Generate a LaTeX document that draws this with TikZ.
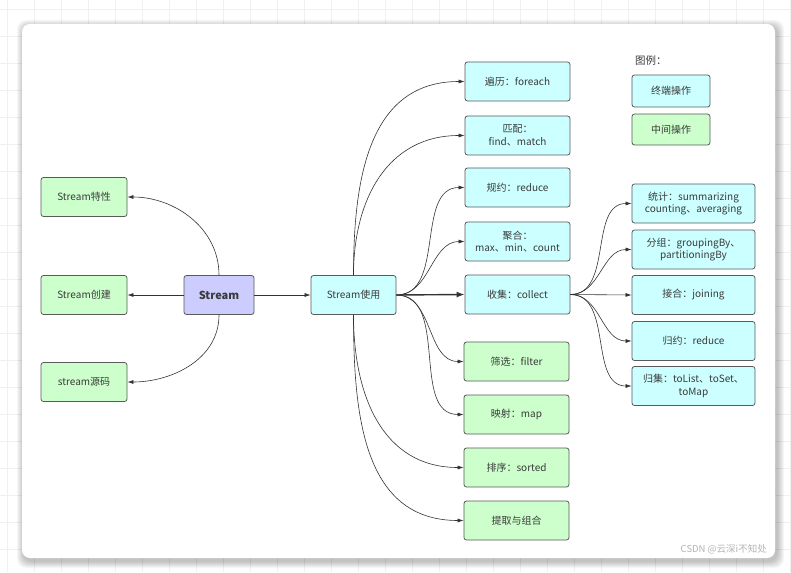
\documentclass[tikz,border=0pt]{standalone}
\usepackage{fontspec}
\setmainfont{Noto Sans CJK SC}
\usetikzlibrary{arrows.meta}
\definecolor{gfill}{HTML}{CCFFCC}
\definecolor{cfill}{HTML}{CCFFFF}
\definecolor{pfill}{HTML}{CCCCFF}
\definecolor{bordc}{HTML}{5A5A5A}
\definecolor{txtc}{HTML}{3A3A3A}
\definecolor{linec}{HTML}{333333}
\definecolor{gridc}{HTML}{F0F0F0}
\definecolor{wmc}{HTML}{B4B4B4}
\begin{document}
\begin{tikzpicture}[x=1pt,y=1pt,
 box/.style={draw=bordc, line width=0.8pt, rounded corners=2.5pt, text=txtc, font=\fontsize{10}{12.5}\selectfont, align=center, inner sep=0pt},
 gbox/.style={box, fill=gfill},
 cbox/.style={box, fill=cfill},
 leftbox/.style={gbox, minimum width=86pt, minimum height=39pt},
 midc/.style={cbox, minimum width=105pt, minimum height=39pt},
 midg/.style={gbox, minimum width=105pt, minimum height=39pt},
 rightc/.style={cbox, minimum width=123pt, minimum height=39pt},
 legc/.style={box, minimum width=78pt, minimum height=32pt},
 conn/.style={draw=linec, line width=0.6pt, -{Latex[length=6pt,width=4pt]}},
 thickconn/.style={draw=linec, line width=1.4pt, -{Latex[length=8pt,width=6pt]}},
]
\useasboundingbox (0,0) rectangle (791,-572);
\fill[white] (0,0) rectangle (791,-572);
% background grid
\foreach \k in {0,...,29} \draw[gridc, line width=0.5pt] (7.7+27*\k,0) -- (7.7+27*\k,-572);
\foreach \k in {0,...,21} \draw[gridc, line width=0.5pt] (0,-9-27*\k) -- (791,-9-27*\k);
% card shadow
\foreach \i in {1,...,7}
  \fill[black, opacity=0.035, rounded corners=9pt] (22+2-\i,-24-3+\i) rectangle (775+2+\i,-558-3-\i);
% card
\fill[white, rounded corners=8pt] (22,-24) rectangle (775,-558);

% left nodes
\node[leftbox] (t1) at (84,-197) {Stream特性};
\node[leftbox] (t2) at (84,-295) {Stream创建};
\node[leftbox] (t3) at (84,-382) {stream源码};
\node[box, fill=pfill, minimum width=70pt, minimum height=39pt, font=\fontsize{11}{13}\selectfont\bfseries] (stream) at (219,-295) {Stream};
\node[cbox, minimum width=85pt, minimum height=39pt] (use) at (353.5,-295) {Stream使用};

% middle column
\node[midc] (m1) at (517.5,-81.5) {遍历：foreach};
\node[midc] (m2) at (517.5,-135.5) {匹配：\\find、match};
\node[midc] (m3) at (517.5,-187.5) {规约：reduce};
\node[midc] (m4) at (517.5,-241.5) {聚合：\\max、min、count};
\node[midc] (m5) at (517.5,-294.5) {收集：collect};
\node[midg] (g1) at (516.5,-361.5) {筛选：filter};
\node[midg] (g2) at (516.5,-414.5) {映射：map};
\node[midg] (g3) at (516.5,-467.5) {排序：sorted};
\node[midg] (g4) at (516.5,-520.5) {提取与组合};

% legend
\node[anchor=west, text=txtc, font=\fontsize{10.5}{12}\selectfont, inner sep=0pt] (legt) at (635,-61) {图例：};
\node[legc, fill=cfill] (l1) at (671,-91) {终端操作};
\node[legc, fill=gfill, minimum height=31pt] (l2) at (671,-129.5) {中间操作};

% right column
\node[rightc] (r1) at (693.5,-203.5) {统计：summarizing\\counting、averaging};
\node[rightc] (r2) at (693.5,-249.5) {分组：groupingBy、\\partitioningBy};
\node[rightc] (r3) at (693.5,-295) {接合：joining};
\node[rightc] (r4) at (693.5,-341) {归约：reduce};
\node[rightc] (r5) at (693.5,-386) {归集：toList、toSet、\\toMap};

% watermark
\node[anchor=east, text=wmc, font=\fontsize{9.5}{11}\selectfont, inner sep=0pt] (wm) at (767,-549) {CSDN @云深i不知处};

% connectors
\draw[conn] (stream.north) to[out=90,in=0] (t1.east);
\draw[conn] (stream.west) -- (t2.east);
\draw[conn] (stream.south) to[out=-90,in=0] (t3.east);
\draw[conn] (stream.east) -- (use.west);

\draw[conn] (use.north) to[out=90,in=180,looseness=1.1] (m1.west);
\draw[conn] (use.north) to[out=90,in=180,looseness=1.1] (m2.west);
\draw[conn] (use.east) to[out=0,in=180] (m3.west);
\draw[conn] (use.east) to[out=0,in=180] (m4.west);
\draw[thickconn] (use.east) -- (m5.west);
\draw[conn] (use.east) to[out=0,in=180] (g1.west);
\draw[conn] (use.east) to[out=0,in=180] (g2.west);
\draw[conn] (use.south) to[out=-90,in=180,looseness=1.1] (g3.west);
\draw[conn] (use.south) to[out=-90,in=180,looseness=1.1] (g4.west);

\draw[conn] (m5.east) to[out=0,in=180] (r1.west);
\draw[conn] (m5.east) to[out=0,in=180] (r2.west);
\draw[conn] (m5.east) -- (r3.west);
\draw[conn] (m5.east) to[out=0,in=180] (r4.west);
\draw[conn] (m5.east) to[out=0,in=180] (r5.west);
\end{tikzpicture}
\end{document}
